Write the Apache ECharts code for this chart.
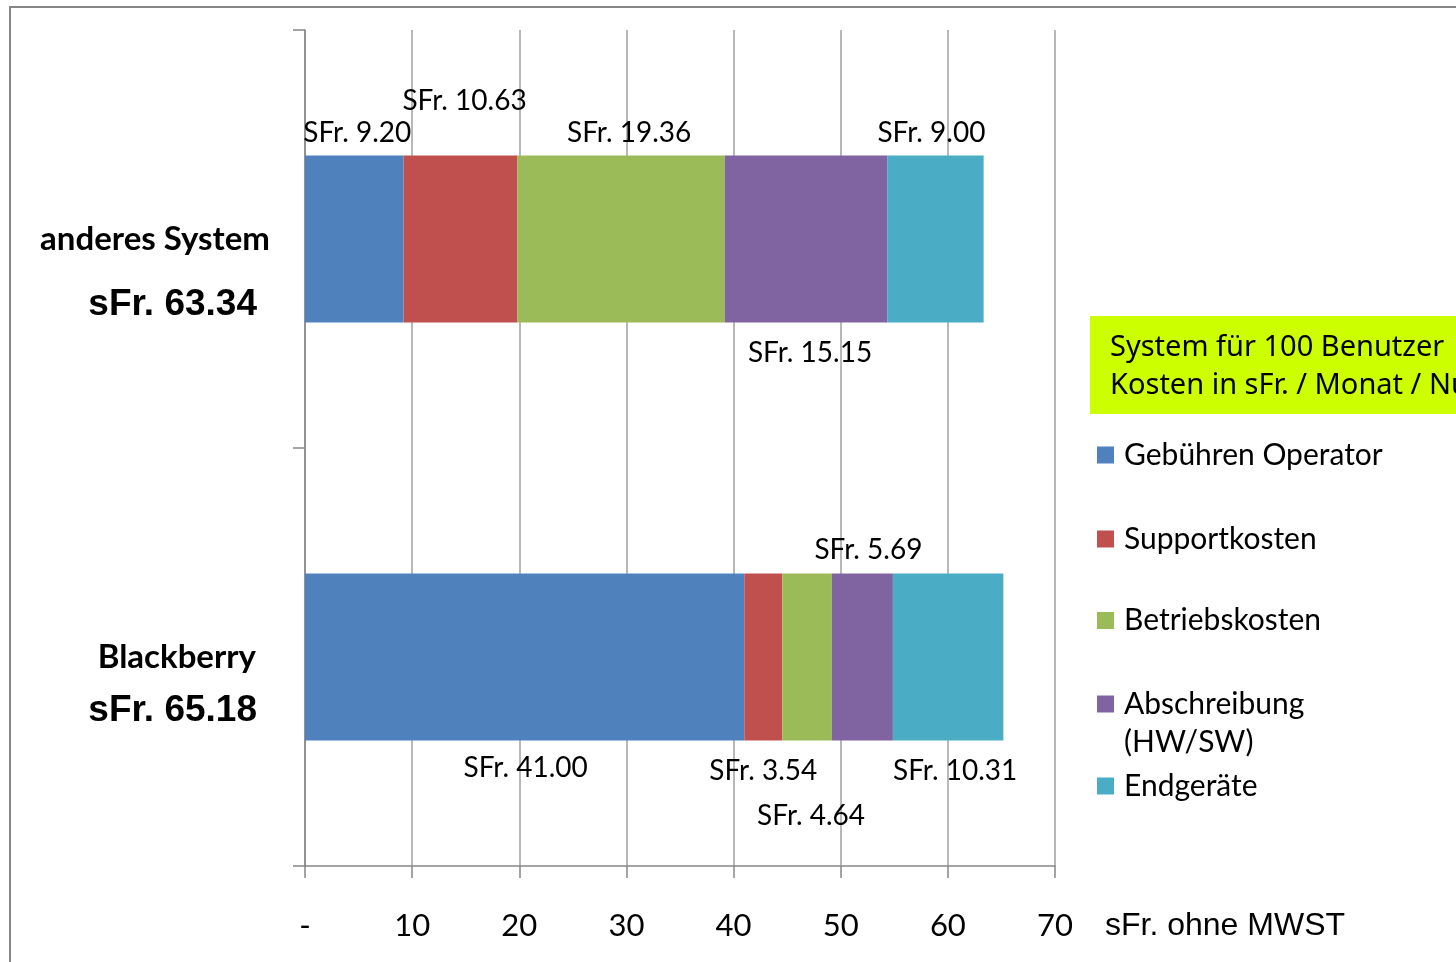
<!DOCTYPE html>
<html>
<head>
<meta charset="utf-8">
<script src="https://cdn.jsdelivr.net/npm/echarts@6/dist/echarts.min.js"></script>
<style>
html,body{margin:0;padding:0;background:#fff;}
#chart{width:1456px;height:962px;}
</style>
</head>
<body>
<div id="chart"></div>
<script>
// ---- data ----
const categories = ['anderes System', 'Blackberry'];
const seriesNames = ['Gebühren Operator', 'Supportkosten', 'Betriebskosten', 'Abschreibung (HW/SW)', 'Endgeräte'];
const gebuehrenOperator = [9.20, 41.00];
const supportkosten = [10.63, 3.54];
const betriebskosten = [19.36, 4.64];
const abschreibung = [15.15, 5.69];
const endgeraete = [9.00, 10.31];
const xTickLabels = ['-', '10', '20', '30', '40', '50', '60', '70'];
const axisTitle = 'sFr. ohne MWST';
const boxTitle = ['System für 100 Benutzer', 'Kosten in sFr. / Monat / Nutzer'];

// ---- styling / layout ----
const seriesValues = [gebuehrenOperator, supportkosten, betriebskosten, abschreibung, endgeraete];
const colors = ['#4F81BD', '#C0504D', '#9BBB59', '#8064A2', '#4BACC6'];
// label placement per series, per category: [position, distance, x offset]
const labelPlacement = [
  [['top', 8, 3], ['bottom', 13, 1]],
  [['top', 40, 4], ['bottom', 16, 0]],
  [['top', 8, 8], ['bottom', 61, 4]],
  [['bottom', 16, 4], ['top', 9, 6]],
  [['top', 8, -4], ['bottom', 16, 7]]
];
const legendCenters = [455, 539, 620.5, 704, 786];
const FONT = 'Lato, "Noto Sans", sans-serif';

const totals = categories.map((c, i) => seriesValues.reduce((s, arr) => s + arr[i], 0));

const series = seriesNames.map((name, si) => ({
  name: name,
  type: 'bar',
  stack: 'total',
  barWidth: '40%',
  itemStyle: { color: colors[si] },
  label: {
    show: true,
    color: '#000',
    fontFamily: FONT,
    fontSize: 28,
    lineHeight: 28,
    formatter: p => 'SFr. ' + p.value.toFixed(2)
  },
  emphasis: { disabled: true },
  data: seriesValues[si].map((v, ci) => ({
    value: v,
    label: {
      position: labelPlacement[si][ci][0],
      distance: labelPlacement[si][ci][1],
      offset: [labelPlacement[si][ci][2], 0]
    }
  }))
}));

const legends = seriesNames.map((name, i) => {
  const multi = name.indexOf('(') >= 0;
  const lh = multi ? 38 : 34;
  const half = multi ? 57 : 17;
  return {
    data: [name],
    orient: 'vertical',
    left: 1097,
    top: legendCenters[i] - half,
    padding: 0,
    icon: 'rect',
    itemWidth: 17,
    itemHeight: 17,
    selectedMode: false,
    formatter: n => multi
      ? '{s| }\n{t|' + n.split(' (')[0] + '}\n{t|(' + n.split(' (')[1] + '}'
      : n,
    textStyle: {
      fontFamily: FONT,
      fontSize: 30,
      lineHeight: lh,
      color: '#000',
      padding: [0, 0, 0, 5],
      rich: {
        s: { fontSize: 10, lineHeight: 38 },
        t: { fontFamily: FONT, fontSize: 30, lineHeight: 38, color: '#000' }
      }
    }
  };
});

const chart = echarts.init(document.getElementById('chart'), null, { renderer: 'canvas' });
chart.setOption({
  animation: false,
  backgroundColor: '#fff',
  graphic: [{
    type: 'rect',
    z: -10,
    silent: true,
    shape: { x: 10, y: 7, width: 3000, height: 3000 },
    style: { fill: null, stroke: '#868686', lineWidth: 2 }
  }],
  title: {
    text: boxTitle.join('\n'),
    left: 1090,
    top: 316,
    backgroundColor: '#CCFF00',
    padding: [13, 40, 9, 20],
    textStyle: {
      fontFamily: '"Noto Sans", Lato, sans-serif',
      fontSize: 29,
      lineHeight: 38,
      fontWeight: 'normal',
      color: '#000'
    }
  },
  legend: legends,
  grid: { left: 305, right: 401, top: 30, bottom: 96, containLabel: false, outerBoundsMode: 'none' },
  xAxis: {
    type: 'value',
    min: 0,
    max: 70,
    interval: 10,
    name: '\n' + axisTitle,
    nameLocation: 'end',
    nameGap: 50,
    nameTextStyle: {
      fontFamily: '"Liberation Sans", Arial, sans-serif',
      fontSize: 32,
      lineHeight: 120,
      color: '#000',
      align: 'left',
      verticalAlign: 'middle'
    },
    axisLine: { show: true, lineStyle: { color: '#868686', width: 1.5 } },
    axisTick: { show: true, length: 12, lineStyle: { color: '#868686', width: 1.5 } },
    splitLine: { show: true, lineStyle: { color: '#a0a0a0', width: 1.5 } },
    axisLabel: {
      margin: 44,
      fontFamily: FONT,
      fontSize: 31,
      color: '#000',
      formatter: v => xTickLabels[Math.round(v / 10)]
    }
  },
  yAxis: {
    type: 'category',
    inverse: true,
    data: categories,
    axisLine: { show: true, lineStyle: { color: '#868686', width: 1.5 } },
    axisTick: { show: true, length: 12, lineStyle: { color: '#868686', width: 1.5 } },
    splitLine: { show: false },
    axisLabel: {
      margin: 35,
      color: '#000',
      formatter: (v, i) => i === 0
        ? '{s1| }\n{a1|' + v + '}\n{b1|sFr. ' + totals[i].toFixed(2) + '}'
        : '{s2| }\n{a2|' + v + '}\n{b2|sFr. ' + totals[i].toFixed(2) + '}',
      rich: {
        s1: { lineHeight: 96, fontSize: 10 },
        s2: { lineHeight: 72, fontSize: 10 },
        a1: { fontFamily: FONT, fontWeight: 'bold', fontSize: 33, lineHeight: 36, color: '#000' },
        a2: { fontFamily: FONT, fontWeight: 'bold', fontSize: 33, lineHeight: 36, color: '#000', padding: [0, 14, 0, 0] },
        b1: { fontFamily: '"Liberation Sans", Arial, sans-serif', fontWeight: 'bold', fontSize: 37, lineHeight: 96, color: '#000', padding: [0, 13, 0, 0] },
        b2: { fontFamily: '"Liberation Sans", Arial, sans-serif', fontWeight: 'bold', fontSize: 37, lineHeight: 72, color: '#000', padding: [0, 13, 0, 0] }
      }
    }
  },
  series: series
});
</script>
</body>
</html>
